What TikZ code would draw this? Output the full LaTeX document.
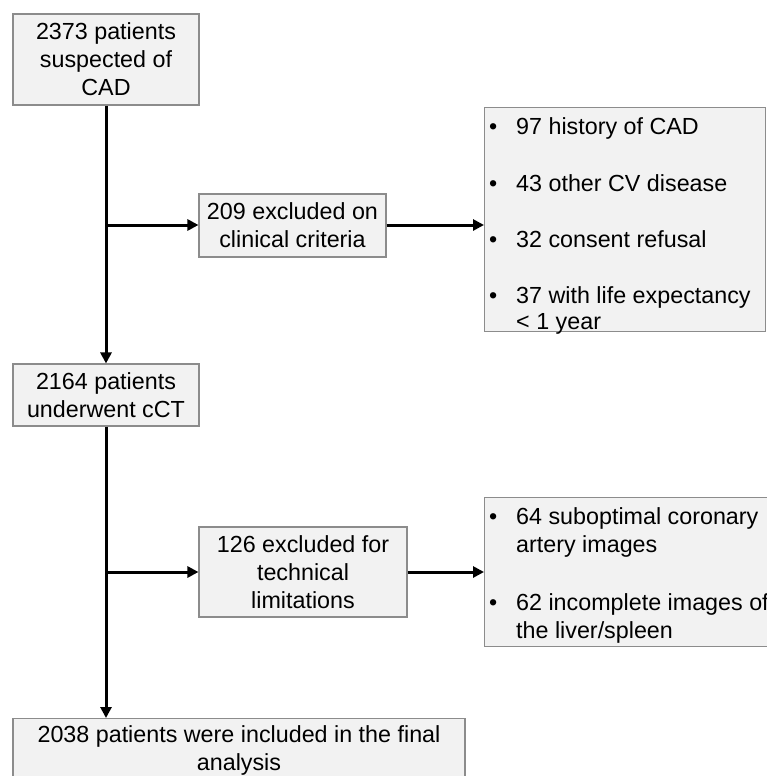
\documentclass[tikz,border=0pt]{standalone}
\usepackage{fontspec}
\setmainfont{Liberation Sans}
\usetikzlibrary{arrows.meta}
\definecolor{boxfill}{HTML}{F2F2F2}
\definecolor{boxline}{HTML}{8C8C8C}
\begin{document}
\begin{tikzpicture}[x=1pt,y=-1pt,
  box/.style={draw=boxline, fill=boxfill, line width=1.1pt, inner sep=0pt, align=center,
    font=\fontsize{23.3}{28}\selectfont},
  panel/.style={draw=boxline, fill=boxfill, line width=1.1pt, inner sep=0pt, anchor=north west},
  paneltext/.style={inner sep=0pt, align=left, anchor=north west, font=\fontsize{23.3}{28}\selectfont},
  arr/.style={line width=3pt, -{Triangle[length=11pt,width=11pt]}}]
\useasboundingbox (0,0) rectangle (766,776);
\fill[white] (0,0) rectangle (766,776);

\node[box, minimum width=186pt, minimum height=91pt] (b1) at (106,59.5) {2373 patients\\suspected of\\CAD};
\node[box, minimum width=186pt, minimum height=62pt] (b2) at (106,395) {2164 patients\\underwent cCT};
\node[box, minimum width=187pt, minimum height=63pt] (ex1) at (292.5,225.5) {209 excluded on\\clinical criteria};
\node[box, minimum width=208pt, minimum height=90pt] (ex2) at (303,572) {126 excluded for\\technical\\limitations};
\node[box, minimum width=452pt, minimum height=63pt, anchor=north] (fin) at (239,718) {2038 patients were included in the final\\analysis};

\node[panel, minimum width=281pt, minimum height=224pt] (r1) at (484,107) {};
\node[paneltext] (r1t) at (489,117)
  {\makebox[27pt][l]{\textbullet}97 history of CAD\\[29pt]
   \makebox[27pt][l]{\textbullet}43 other CV disease\\[28pt]
   \makebox[27pt][l]{\textbullet}32 consent refusal\\[28pt]
   \makebox[27pt][l]{\textbullet}37 with life expectancy\\[-2pt]
   \hspace*{27pt}< 1 year};
\node[panel, minimum width=310pt, minimum height=149pt] (r2) at (484,497) {};
\node[paneltext] (r2t) at (489,507)
  {\makebox[27pt][l]{\textbullet}64 suboptimal coronary\\
   \hspace*{27pt}artery images\\[30pt]
   \makebox[27pt][l]{\textbullet}62 incomplete images of\\
   \hspace*{27pt}the liver/spleen};

\coordinate (j1) at (106,225);
\coordinate (j2) at (106,572);

\draw[arr] (b1.south) -- (b2.north);
\draw[arr] (j1) -- (j1 -| ex1.west);
\draw[arr] (j1 -| ex1.east) -- (j1 -| r1.west);
\draw[arr] (b2.south) -- (b2.south |- fin.north);
\draw[arr] (j2) -- (j2 -| ex2.west);
\draw[arr] (ex2.east) -- (ex2.east -| r2.west);
\end{tikzpicture}
\end{document}
